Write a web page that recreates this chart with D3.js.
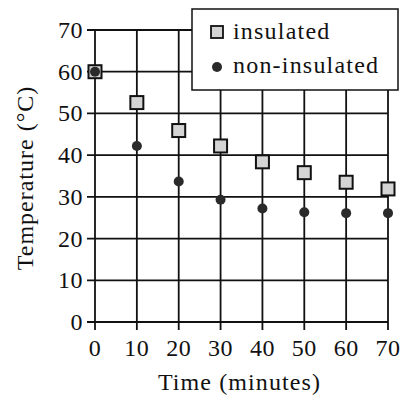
<!DOCTYPE html>
<html>
<head>
<meta charset="utf-8">
<script src="https://cdn.jsdelivr.net/npm/d3@7"></script>
<style>
  body { margin: 0; background: #fff; }
  text { font-family: "Liberation Serif", "Times New Roman", serif; fill: #111; }
</style>
</head>
<body>
<svg width="401" height="398"></svg>
<script>
var times = [0, 10, 20, 30, 40, 50, 60, 70];
var insulated = [60, 52.6, 45.9, 42.2, 38.4, 35.8, 33.5, 31.9];
var nonInsulated = [60, 42.2, 33.7, 29.3, 27.2, 26.3, 26.1, 26.1];
var xTicks = [0, 10, 20, 30, 40, 50, 60, 70];
var yTicks = [0, 10, 20, 30, 40, 50, 60, 70];
var legendLabels = ["insulated", "non-insulated"];

var svg = d3.select("svg");

var x = d3.scaleLinear().domain([0, 70]).range([95, 388]);
var y = d3.scaleLinear().domain([0, 70]).range([322, 30]);

// grid lines, they run a bit past the plot to act as tick marks
var grid = svg.append("g")
    .attr("stroke", "#111")
    .attr("stroke-width", 1.8);

grid.selectAll("line.h")
    .data(yTicks)
    .enter().append("line")
      .attr("class", "h")
      .attr("x1", x(0) - 8)
      .attr("x2", x(70))
      .attr("y1", function(d) { return y(d); })
      .attr("y2", function(d) { return y(d); });

grid.selectAll("line.v")
    .data(xTicks)
    .enter().append("line")
      .attr("class", "v")
      .attr("x1", function(d) { return x(d); })
      .attr("x2", function(d) { return x(d); })
      .attr("y1", y(70))
      .attr("y2", y(0) + 8);

// tick labels
svg.append("g").selectAll("text")
    .data(yTicks)
    .enter().append("text")
      .attr("x", x(0) - 12)
      .attr("y", function(d) { return y(d) + 8; })
      .attr("text-anchor", "end")
      .style("font-size", "24px")
      .style("letter-spacing", "0.5px")
      .text(function(d) { return d; });

svg.append("g").selectAll("text")
    .data(xTicks)
    .enter().append("text")
      .attr("x", function(d) { return x(d); })
      .attr("y", 356)
      .attr("text-anchor", "middle")
      .style("font-size", "24px")
      .style("letter-spacing", "0.5px")
      .text(function(d) { return d; });

// axis titles
svg.append("text")
    .attr("x", (x(0) + x(70)) / 2 - 2)
    .attr("y", 390)
    .attr("text-anchor", "middle")
    .style("font-size", "24px")
    .style("letter-spacing", "1.1px")
    .text("Time (minutes)");

svg.append("text")
    .attr("transform", "translate(33," + ((y(0) + y(70)) / 2 + 2) + ") rotate(-90)")
    .attr("text-anchor", "middle")
    .style("font-size", "24px")
    .style("letter-spacing", "1px")
    .text("Temperature (°C)");

// points
var sq = 13;
svg.append("g").selectAll("rect")
    .data(times)
    .enter().append("rect")
      .attr("x", function(d) { return x(d) - sq / 2; })
      .attr("y", function(d, i) { return y(insulated[i]) - sq / 2; })
      .attr("width", sq)
      .attr("height", sq)
      .attr("fill", "#d4d4d4")
      .attr("stroke", "#111")
      .attr("stroke-width", 2);

svg.append("g").selectAll("circle")
    .data(times)
    .enter().append("circle")
      .attr("cx", function(d) { return x(d); })
      .attr("cy", function(d, i) { return y(nonInsulated[i]); })
      .attr("r", 5)
      .attr("fill", "#2a2a2a");

// legend
var legend = svg.append("g");
legend.append("rect")
    .attr("x", 192)
    .attr("y", 9)
    .attr("width", 206)
    .attr("height", 81)
    .attr("fill", "#fff")
    .attr("stroke", "#111")
    .attr("stroke-width", 1.5);

legend.append("rect")
    .attr("x", 211)
    .attr("y", 26)
    .attr("width", 12)
    .attr("height", 12)
    .attr("fill", "#d4d4d4")
    .attr("stroke", "#111")
    .attr("stroke-width", 1.8);

legend.append("circle")
    .attr("cx", 217)
    .attr("cy", 67)
    .attr("r", 5)
    .attr("fill", "#2a2a2a");

legend.selectAll("text")
    .data(legendLabels)
    .enter().append("text")
      .attr("x", 233)
      .attr("y", function(d, i) { return 39 + i * 34; })
      .style("font-size", "24px")
      .style("letter-spacing", "1.2px")
      .text(function(d) { return d; });
</script>
</body>
</html>
